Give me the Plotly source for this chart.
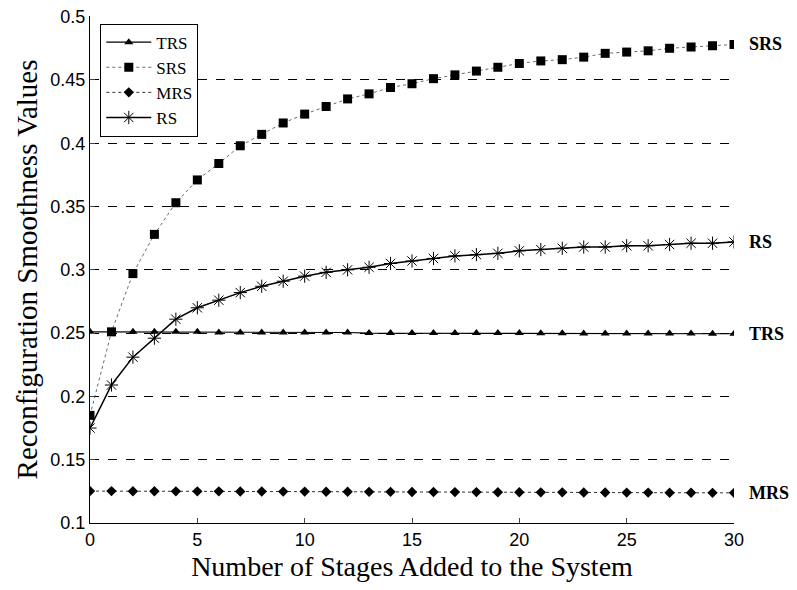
import plotly.graph_objects as go

stages = list(range(31))

trs = [0.251, 0.251, 0.251, 0.251, 0.251, 0.251, 0.2505, 0.2505, 0.2505, 0.2505,
       0.2505, 0.2505, 0.2505, 0.250, 0.250, 0.250, 0.250, 0.250, 0.250, 0.250,
       0.250, 0.2498, 0.2498, 0.2497, 0.2497, 0.2497, 0.2496, 0.2496, 0.2496, 0.2495,
       0.2495]
srs = [0.185, 0.251, 0.297, 0.328, 0.353, 0.371, 0.384, 0.398, 0.407, 0.416,
       0.423, 0.429, 0.435, 0.439, 0.444, 0.447, 0.451, 0.454, 0.457, 0.460,
       0.463, 0.465, 0.466, 0.468, 0.471, 0.472, 0.473, 0.475, 0.476, 0.477,
       0.478]
mrs = [0.1252, 0.1252, 0.1251, 0.1251, 0.1250, 0.1250, 0.1250, 0.1249, 0.1249, 0.1248,
       0.1248, 0.1247, 0.1247, 0.1246, 0.1246, 0.1245, 0.1245, 0.1244, 0.1244, 0.1243,
       0.1243, 0.1242, 0.1242, 0.1241, 0.1241, 0.1240, 0.1240, 0.1239, 0.1239, 0.1238,
       0.1238]
rs = [0.175, 0.209, 0.231, 0.246, 0.261, 0.270, 0.276, 0.282, 0.287, 0.291,
      0.295, 0.298, 0.300, 0.302, 0.305, 0.307, 0.309, 0.311, 0.312, 0.313,
      0.315, 0.316, 0.317, 0.318, 0.318, 0.319, 0.319, 0.320, 0.321, 0.321,
      0.322]

y_ticks = [0.1, 0.15, 0.2, 0.25, 0.3, 0.35, 0.4, 0.45, 0.5]
y_tick_text = ["0.1", "0.15", "0.2", "0.25", "0.3", "0.35", "0.4", "0.45", "0.5"]
x_ticks = [0, 5, 10, 15, 20, 25, 30]

SERIF = "Liberation Serif, Times New Roman, serif"
SANS = "Liberation Sans, Arial, sans-serif"

fig = go.Figure()
fig.add_trace(go.Scatter(
    x=stages, y=trs, name="TRS", mode="lines+markers",
    line=dict(color="black", width=1.2),
    marker=dict(symbol="triangle-up", size=8, color="black"),
))
fig.add_trace(go.Scatter(
    x=stages, y=srs, name="SRS", mode="lines+markers",
    line=dict(color="#444444", width=0.8, dash="dot"),
    marker=dict(symbol="square", size=9, color="black"),
))
fig.add_trace(go.Scatter(
    x=stages, y=mrs, name="MRS", mode="lines+markers",
    line=dict(color="#333333", width=1, dash="dot"),
    marker=dict(symbol="diamond", size=8, color="black"),
))
fig.add_trace(go.Scatter(
    x=stages, y=rs, name="RS", mode="lines+markers",
    line=dict(color="black", width=1.5),
    marker=dict(symbol="asterisk-open", size=11, color="black",
                line=dict(color="black", width=1)),
))

# right-hand series labels
for name, vals in [("SRS", srs), ("RS", rs), ("TRS", trs), ("MRS", mrs)]:
    fig.add_annotation(
        x=stages[-1], y=vals[-1], text=name, showarrow=False,
        xanchor="left", yanchor="middle", xshift=13,
        font=dict(family=SERIF, size=18, color="black", weight="bold"),
    )

# page body has an 8px margin, so the figure is kept 16px smaller than the window
fig.update_layout(
    width=781, height=574,
    margin=dict(l=82, r=55, t=8, b=59),
    paper_bgcolor="white", plot_bgcolor="white",
    showlegend=True,
    legend=dict(
        x=0.016, y=0.985, xanchor="left", yanchor="top",
        bgcolor="white", bordercolor="black", borderwidth=1,
        font=dict(family=SERIF, size=17, color="black"),
        tracegroupgap=0, itemwidth=45, entrywidth=85,
    ),
    xaxis=dict(
        range=[0, 30], tickvals=x_ticks, ticks="inside", ticklen=5,
        showline=True, linecolor="black", linewidth=1, mirror=False,
        showgrid=False, zeroline=False, automargin=False,
        tickfont=dict(family=SANS, size=18, color="black"),
        title=dict(text="Number of Stages Added to the System", standoff=9,
                   font=dict(family=SERIF, size=28, color="black")),
    ),
    yaxis=dict(
        range=[0.1, 0.5005], tickvals=y_ticks, ticktext=y_tick_text,
        ticks="inside", ticklen=5, ticklabeloverflow="allow",
        showline=True, linecolor="black", linewidth=1,
        showgrid=True, gridcolor="black", gridwidth=1, griddash="dash",
        zeroline=False, automargin=False,
        tickfont=dict(family=SANS, size=18, color="black"),
        title=dict(text="Reconfiguration Smoothness Values", standoff=4,
                   font=dict(family=SERIF, size=29, color="black")),
    ),
)

fig.write_html("out.html")
